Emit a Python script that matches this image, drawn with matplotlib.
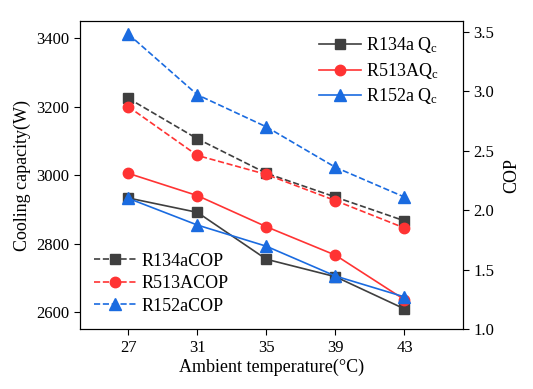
import matplotlib
matplotlib.use("Agg")
from matplotlib import pyplot as plt

plt.rcParams['font.family'] = ['Liberation Serif', 'DejaVu Serif']
plt.rcParams['mathtext.fontset'] = 'custom'
plt.rcParams['mathtext.rm'] = 'Liberation Serif'
plt.rcParams['mathtext.it'] = 'Liberation Serif:italic'

# data
temps = [27, 31, 35, 39, 43]
qc_r134a = [2933, 2891, 2754, 2703, 2609]
qc_r513a = [3005, 2940, 2849, 2766, 2636]
qc_r152a = [2932, 2854, 2792, 2705, 2644]
cop_r134a = [2.94, 2.60, 2.31, 2.11, 1.91]
cop_r513a = [2.87, 2.46, 2.30, 2.08, 1.85]
cop_r152a = [3.48, 2.97, 2.70, 2.36, 2.11]

GRAY = '#3f3f3f'
RED = '#ff3333'
BLUE = '#1a6be0'

fig = plt.figure(figsize=(5.33, 3.89), dpi=100)
ax = fig.add_axes([0.150, 0.154, 0.719, 0.792])
ax2 = ax.twinx()

ms = 6.5
l1, = ax.plot(temps, qc_r134a, '-s', color=GRAY, ms=ms, lw=1.2, label=r'R134a Q$_\mathrm{c}$')
l2, = ax.plot(temps, qc_r513a, '-o', color=RED, ms=ms + 1, lw=1.2, label=r'R513AQ$_\mathrm{c}$')
l3, = ax.plot(temps, qc_r152a, '-^', color=BLUE, ms=ms + 1.5, lw=1.2, label=r'R152a Q$_\mathrm{c}$')

d1, = ax2.plot(temps, cop_r134a, '--s', color=GRAY, ms=ms, lw=1.2, label='R134aCOP')
d2, = ax2.plot(temps, cop_r513a, '--o', color=RED, ms=ms + 1, lw=1.2, label='R513ACOP')
d3, = ax2.plot(temps, cop_r152a, '--^', color=BLUE, ms=ms + 1.5, lw=1.2, label='R152aCOP')

ax.set_xlim(24.2, 46.4)
ax.set_ylim(2550, 3450)
ax2.set_ylim(1.0, 3.59)
ax.set_xticks(temps)
ax.set_yticks([2600, 2800, 3000, 3200, 3400])
ax2.set_yticks([1.0, 1.5, 2.0, 2.5, 3.0, 3.5])

ax.tick_params(labelsize=12, direction='out', length=4)
ax2.tick_params(labelsize=12, direction='out', length=4)
ax.set_xlabel('Ambient temperature(°C)', fontsize=13, labelpad=2)
ax.set_ylabel('Cooling capacity(W)', fontsize=13, labelpad=4)
ax2.set_ylabel('COP', fontsize=13, labelpad=6)

leg_kw = dict(frameon=False, fontsize=13, handlelength=2.3, borderaxespad=0.4,
              labelspacing=0.3, handletextpad=0.3)
leg_cop = ax2.legend(handles=[d1, d2, d3], loc='lower left', **leg_kw)
ax2.add_artist(leg_cop)
ax2.legend(handles=[l1, l2, l3], loc='upper right', bbox_to_anchor=(0.974, 1.0), **leg_kw)

fig.savefig('out.png', dpi=100)
